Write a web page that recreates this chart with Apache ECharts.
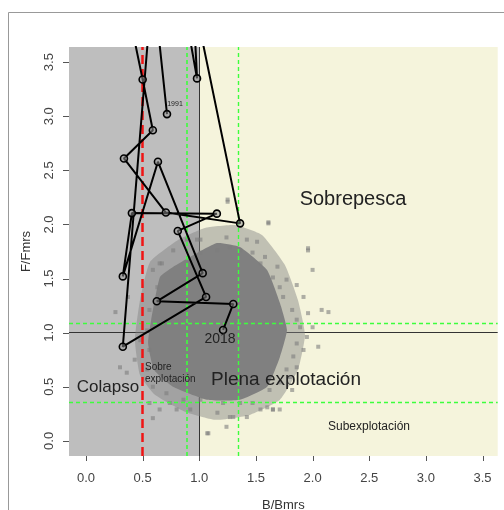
<!DOCTYPE html>
<html><head><meta charset="utf-8">
<script src="https://cdn.jsdelivr.net/npm/echarts@6/dist/echarts.min.js"></script>
<style>html,body{margin:0;padding:0;background:#fff}#c{width:504px;height:510px}</style>
</head><body><div id="c"></div>
<script>
// ---- data ----
const years = [1991,1992,1993,1994,1995,1996,1997,1998,1999,2000,2001,2002,2003,2004,2005,2006,2007,2008,2009,2010,2011,2012,2013,2014,2015,2016,2017,2018];
const bRatio = [0.715,0.565,0.62,0.66,0.70,0.98,0.88,0.60,0.33,0.50,0.59,0.335,0.705,1.36,0.85,0.75,0.60,0.325,1.06,0.81,1.155,0.405,0.325,0.635,1.03,0.625,1.30,1.21];
const fRatio = [3.02,4.5,5.6,6.2,5.0,3.35,5.5,5.4,4.2,3.34,2.87,2.61,2.11,2.01,4.6,5.3,4.4,0.87,1.33,1.94,2.10,2.105,1.52,2.58,1.55,1.29,1.265,1.025];

// uncertainty cloud: dense core outline, fringe outline, scattered points
const coreB = [0.653,0.575,0.548,0.600,0.768,1.068,1.359,1.598,1.712,1.774,1.712,1.598,1.359,1.156,0.918,0.768];
const coreF = [1.514,1.117,0.905,0.656,0.499,0.379,0.379,0.499,0.776,1.025,1.274,1.579,1.791,1.828,1.699,1.607];
const fringeB = [0.565,0.477,0.432,0.477,0.609,0.874,1.139,1.447,1.712,1.871,1.933,1.871,1.756,1.553,1.315,1.050,0.812];
const fringeF = [1.653,1.302,0.933,0.609,0.425,0.268,0.194,0.240,0.379,0.656,0.979,1.302,1.625,1.902,1.994,1.967,1.856];
const cloudB = [1.25,1.61,1.96,1.42,1.51,1.58,1.69,1.77,1.86,1.92,1.96,2.08,2.00,1.95,1.92,1.86,1.80,1.71,1.71,1.65,1.60,1.54,1.42,1.30,1.24,1.16,1.07,0.92,0.80,0.74,0.65,0.56,0.59,0.54,0.59,0.65,0.77,0.98,1.01,1.16,1.24,1.27,1.36,1.47,1.54,1.65,1.71,1.74,1.82,1.86,1.89,1.86,1.83,1.77,1.62,1.47,1.36,1.21,1.01,0.86,0.71,0.63,0.56,0.54,0.56,0.63,0.30,0.36,0.59,0.48,0.43,0.26,0.37,0.67,0.89,1.01,1.25,1.61,1.96,2.14,2.00,2.05,1.82,1.65,1.27,1.08];
const cloudF = [2.21,2.01,1.76,1.86,1.84,1.70,1.61,1.49,1.44,1.33,1.18,1.21,1.05,0.96,0.84,0.68,0.59,0.54,0.29,0.29,0.31,0.29,0.22,0.22,0.13,0.26,0.07,0.29,0.29,0.35,0.29,0.35,0.50,0.66,1.58,1.64,1.76,1.86,1.74,1.76,1.88,1.79,1.76,1.74,1.64,1.51,1.42,1.33,1.21,1.12,1.05,0.90,0.78,0.66,0.47,0.35,0.35,0.35,0.38,0.38,0.44,0.66,0.84,1.02,1.21,1.42,0.68,0.63,0.21,0.93,0.75,1.19,1.33,1.64,1.86,1.86,2.23,2.02,1.78,1.19,1.58,0.87,0.47,0.29,0.22,0.07];

// reference points
const bLimit = 0.5, bTarget = 1.0, fTarget = 1.0;
const bBand = [0.889, 1.342];
const fBand = [1.092, 0.357];
const xTicks = [0,0.5,1,1.5,2,2.5,3,3.5];
const yTicks = [0,0.5,1,1.5,2,2.5,3,3.5];
const xMin = -0.15, xMax = 3.634, yMin = -0.14, yMax = 3.64;

const W = 504, H = 510;
const GRID = {left:69, top:47, right:6.3, bottom:54};
const chart = echarts.init(document.getElementById('c'), null, {renderer:'canvas', width:W, height:H});
const FONT = "'Liberation Sans', Arial, sans-serif";
const green = '#3cff3c';

function polySeries(xs, ys, fill, z){
  return {
    type:'custom', z:z, silent:true, clip:true,
    data:[[xs[0], ys[0]]],
    renderItem:function(params, api){
      const pts = xs.map((x,i)=>api.coord([x, ys[i]]));
      return {type:'polygon', shape:{points:pts, smooth:0.15}, style:{fill:fill}};
    }
  };
}

const texts = [
  {text:'Sobrepesca', x:353, y:199, align:'center', font:"20px "+FONT},
  {text:'Plena explotación', x:286, y:380, align:'center', font:"19px "+FONT},
  {text:'Colapso', x:108, y:387, align:'center', font:"17px "+FONT},
  {text:'Sobre', x:145, y:367, align:'left', font:"10px "+FONT},
  {text:'explotación', x:145, y:379, align:'left', font:"10px "+FONT},
  {text:'Subexplotación', x:369, y:427, align:'center', font:"12px "+FONT},
  {text:String(years[0]), x:175, y:104, align:'center', font:"7px "+FONT},
  {text:String(years[years.length-1]), x:220, y:339, align:'center', font:"14px "+FONT}
];

const option = {
  animation:false,
  backgroundColor:'#fff',
  grid:Object.assign({containLabel:false, outerBoundsMode:'none'}, GRID),
  xAxis:{
    type:'value', min:xMin, max:xMax,
    name:'B/Bmrs', nameLocation:'middle', nameGap:43,
    nameTextStyle:{fontSize:13, color:'#333', fontFamily:FONT},
    splitLine:{show:false}, axisLine:{show:false, onZero:false}, axisTick:{show:false},
    axisLabel:{customValues:xTicks, formatter:v=>v.toFixed(1), fontSize:13, color:'#444', fontFamily:FONT, margin:16}
  },
  yAxis:{
    type:'value', min:yMin, max:yMax,
    name:'F/Fmrs', nameLocation:'middle', nameGap:36,
    nameTextStyle:{fontSize:13, color:'#333', fontFamily:FONT},
    splitLine:{show:false}, axisLine:{show:false, onZero:false}, axisTick:{show:false},
    axisLabel:{customValues:yTicks, formatter:v=>v.toFixed(1), rotate:90, fontSize:13, color:'#444', fontFamily:FONT, margin:13}
  },
  series:[
    { // background zones + solid reference lines (below cloud)
      type:'line', data:[], z:0, silent:true,
      markArea:{silent:true, z:0, itemStyle:{opacity:1}, data:[
        [{xAxis:xMin, itemStyle:{color:'#bebebe'}},{xAxis:bTarget}],
        [{xAxis:bTarget, itemStyle:{color:'#f5f4dc'}},{xAxis:xMax}]
      ]},
      markLine:{silent:true, z:1, symbol:'none', label:{show:false}, animation:false,
        lineStyle:{color:'#333', type:'solid', width:1},
        data:[{yAxis:fTarget},{xAxis:bTarget}]}
    },
    polySeries(fringeB, fringeF, 'rgba(128,128,128,0.45)', 2),
    polySeries(coreB, coreF, '#808080', 3),
    {
      type:'scatter', z:3, silent:true, symbol:'rect', symbolSize:4,
      itemStyle:{color:'rgba(125,125,125,0.75)'},
      data:cloudB.map((b,i)=>[b, cloudF[i]])
    },
    { // dashed reference lines
      type:'line', data:[], z:4, silent:true,
      markLine:{silent:true, z:8, symbol:'none', label:{show:false}, animation:false,
        data:[
          {xAxis:bBand[0], lineStyle:{color:green, type:[4,3], width:1.6}},
          {xAxis:bBand[1], lineStyle:{color:green, type:[4,3], width:1.4}},
          {yAxis:fBand[0], lineStyle:{color:green, type:[4,3], width:1.4}},
          {yAxis:fBand[1], lineStyle:{color:green, type:[4,3], width:1.4}},
          {xAxis:bLimit, lineStyle:{color:'#f01414', type:[9,5], width:2.5}}
        ]}
    },
    {
      type:'line', z:9, silent:true, clip:true,
      data:years.map((y,i)=>[bRatio[i], fRatio[i]]),
      lineStyle:{color:'#000', width:2},
      symbol:'circle', symbolSize:7,
      itemStyle:{color:'rgba(150,150,150,0.5)', borderColor:'#000', borderWidth:1.6}
    }
  ]
};
chart.setOption(option);

// axis position helpers (library conversion first, grid geometry as fallback)
const gw = W - GRID.left - GRID.right, gh = H - GRID.top - GRID.bottom;
function toPx(pt){
  let p = null;
  try { p = chart.convertToPixel({xAxisIndex:0, yAxisIndex:0}, pt); } catch(e) { p = null; }
  if (!p || !isFinite(p[0]) || !isFinite(p[1])) {
    p = [GRID.left + (pt[0]-xMin)/(xMax-xMin)*gw, GRID.top + (yMax-pt[1])/(yMax-yMin)*gh];
  }
  return p;
}
const g = [];
g.push({type:'rect', z:-10, silent:true, shape:{x:8.5, y:12.5, width:600, height:600}, style:{fill:'transparent', stroke:'#999', lineWidth:1}});
xTicks.forEach(v=>{
  const p = toPx([v, yMin]);
  const x = Math.round(p[0]), y = Math.round(p[1]);
  g.push({type:'rect', z:120, silent:true, shape:{x:x, y:y, width:1, height:5}, style:{fill:'#555', stroke:null}});
});
yTicks.forEach(v=>{
  const p = toPx([xMin, v]);
  const x = Math.round(p[0]), y = Math.round(p[1]);
  g.push({type:'rect', z:120, silent:true, shape:{x:x-6, y:y, width:6, height:1}, style:{fill:'#555', stroke:null}});
});
texts.forEach(t=>{
  g.push({type:'text', z:100, silent:true, style:{text:t.text, x:t.x, y:t.y, align:t.align, verticalAlign:'middle', font:t.font, fill:'#222'}});
});
chart.setOption({graphic:g});
</script>
</body></html>
